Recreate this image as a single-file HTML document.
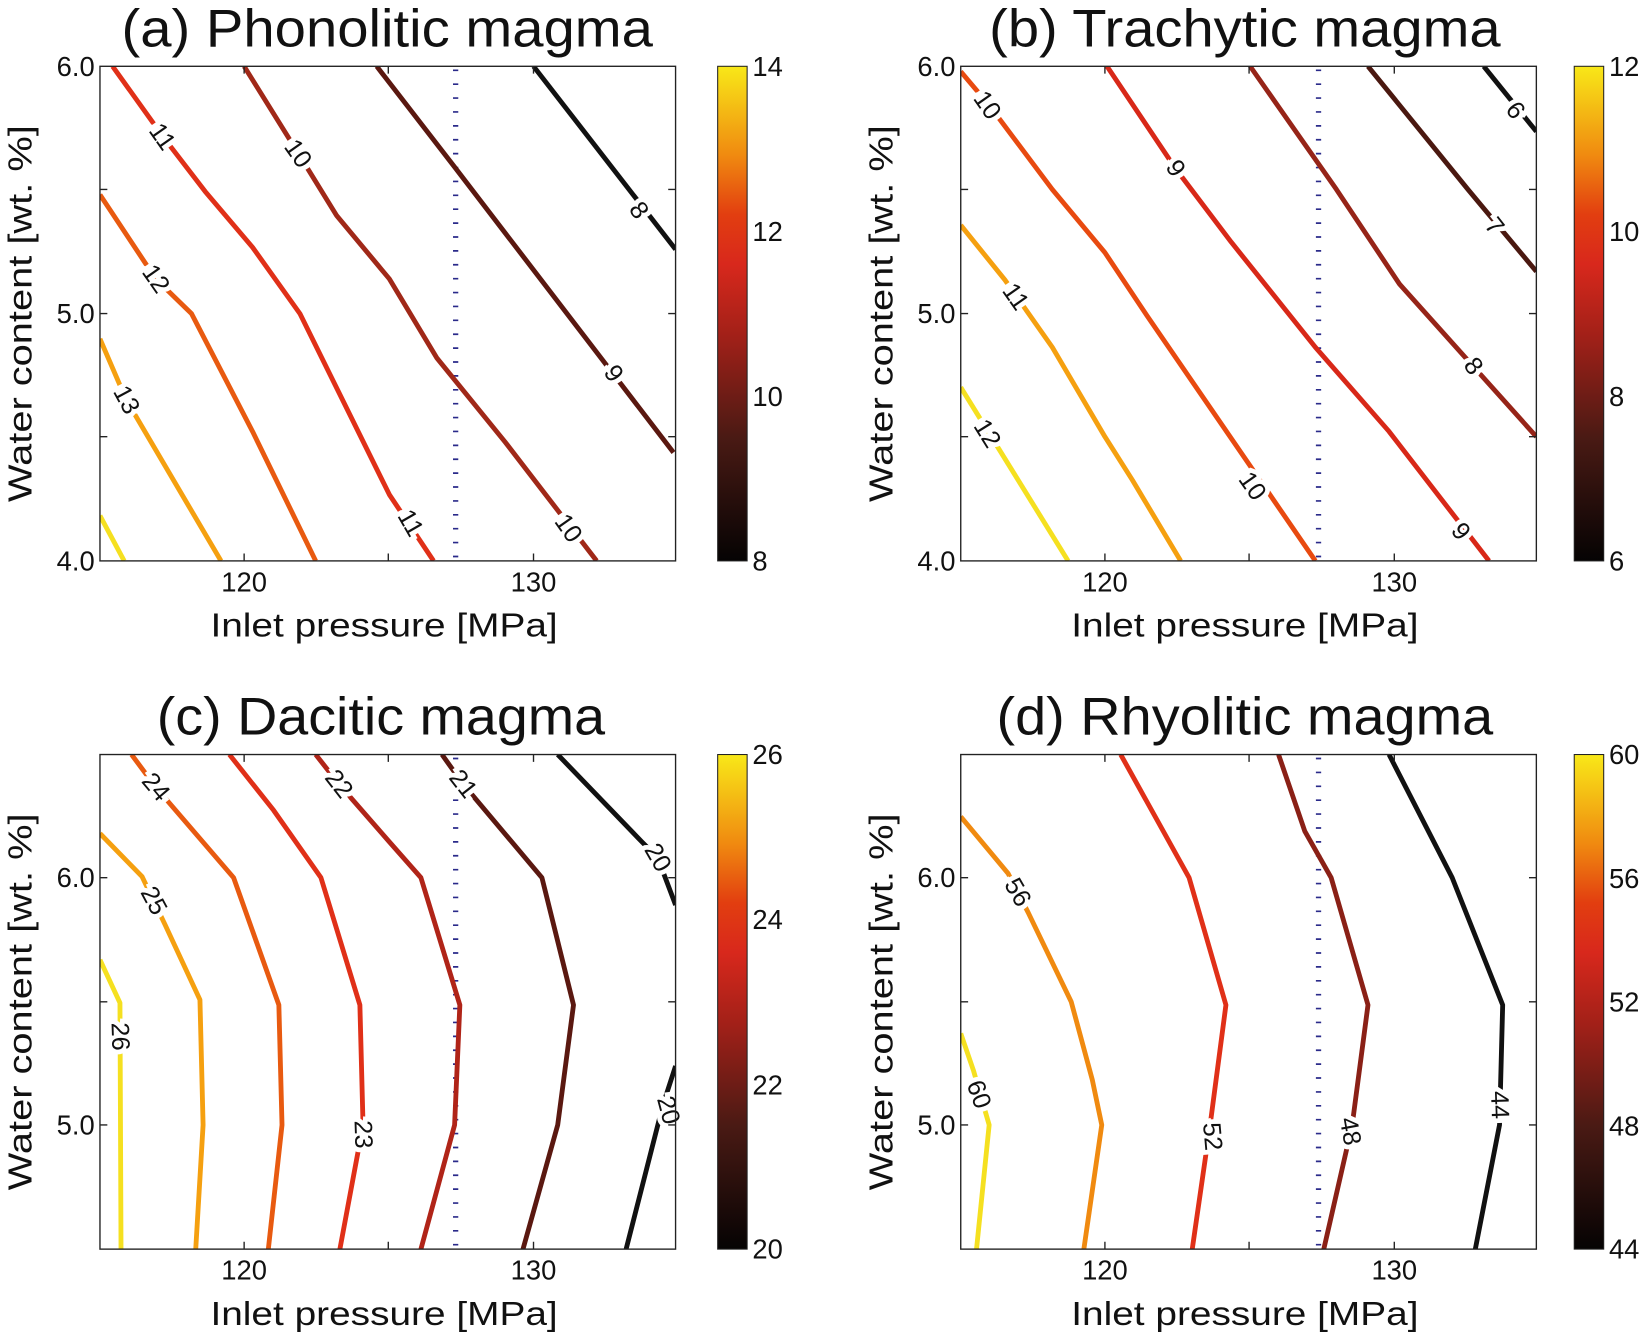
<!DOCTYPE html>
<html><head><meta charset="utf-8"><style>
html,body{margin:0;padding:0;background:#fff;}
svg{display:block;}
text{font-family:"Liberation Sans",sans-serif;fill:#111;}
.t{font-size:50px;text-anchor:middle;}
.ax{font-size:32px;text-anchor:middle;}
.tk{font-size:26px;}
.cl{font-size:24px;text-anchor:middle;dominant-baseline:central;stroke:#fff;stroke-width:9px;paint-order:stroke;}
.ln{fill:none;stroke-width:4.6;stroke-linejoin:round;stroke-linecap:butt;}
.bd{stroke:#2a2a8a;stroke-width:5;stroke-dasharray:1.6 11.6;fill:none;}
</style></head><body>
<svg width="1650" height="1339" viewBox="0 0 1568 1272.4" preserveAspectRatio="none" xmlns="http://www.w3.org/2000/svg">
<defs>
<linearGradient id="hot" x1="0" y1="1" x2="0" y2="0">
<stop offset="0" stop-color="#050303"/>
<stop offset="0.25" stop-color="#4a1a14"/>
<stop offset="0.45" stop-color="#a02018"/>
<stop offset="0.6" stop-color="#d8281c"/>
<stop offset="0.7" stop-color="#e23e10"/>
<stop offset="0.82" stop-color="#f08a10"/>
<stop offset="1" stop-color="#f8e818"/>
</linearGradient>
<clipPath id="ca"><rect x="95" y="63" width="547" height="470"/></clipPath>
<clipPath id="cb"><rect x="913" y="63" width="547" height="470"/></clipPath>
<clipPath id="cc"><rect x="95" y="717" width="547" height="470"/></clipPath>
<clipPath id="cd"><rect x="913" y="717" width="547" height="470"/></clipPath>
</defs>

<!-- Titles -->
<text class="t" x="368" y="44" textLength="505" lengthAdjust="spacingAndGlyphs">(a) Phonolitic magma</text>
<text class="t" x="1183" y="44" textLength="486" lengthAdjust="spacingAndGlyphs">(b) Trachytic magma</text>
<text class="t" x="362" y="698" textLength="426" lengthAdjust="spacingAndGlyphs">(c) Dacitic magma</text>
<text class="t" x="1183" y="698" textLength="472" lengthAdjust="spacingAndGlyphs">(d) Rhyolitic magma</text>

<!-- Panel a -->
<g clip-path="url(#ca)">
<line class="bd" x1="433" y1="66" x2="433" y2="533"/>
<polyline class="ln" stroke="#f5e020" points="95,490 118,533"/>
<polyline class="ln" stroke="#f5a010" points="95,322 120,380 210,533"/>
<polyline class="ln" stroke="#e85a10" points="95,185 148,265 182,298 240,410 300,533"/>
<polyline class="ln" stroke="#e03018" points="107,63 155,130 195,182 240,235 285,298 370,470 412,533"/>
<polyline class="ln" stroke="#a02818" points="232,63 283,145 320,205 370,265 415,340 480,420 567,533"/>
<polyline class="ln" stroke="#5a1810" points="358,63 433,160 640,430"/>
<polyline class="ln" stroke="#111" points="507,63 642,237"/>
</g>
<text class="cl" transform="translate(154,130) rotate(55)">11</text>
<text class="cl" transform="translate(283,146) rotate(55)">10</text>
<text class="cl" transform="translate(148,265) rotate(55)">12</text>
<text class="cl" transform="translate(120,380) rotate(62)">13</text>
<text class="cl" transform="translate(390,497) rotate(60)">11</text>
<text class="cl" transform="translate(540,502) rotate(55)">10</text>
<text class="cl" transform="translate(583,355) rotate(55)">9</text>
<text class="cl" transform="translate(607,200) rotate(55)">8</text>
<rect x="95" y="63" width="547" height="470" fill="none" stroke="#222" stroke-width="1.3"/>
<path d="M232,533v-7M369,533v-7M507,533v-7M232,63v7M369,63v7M507,63v7M95,180h7M95,298h7M95,415h7M642,180h-7M642,298h-7M642,415h-7" stroke="#222" stroke-width="1.3"/>
<text class="tk" x="90" y="72" text-anchor="end">6.0</text>
<text class="tk" x="90" y="307" text-anchor="end">5.0</text>
<text class="tk" x="90" y="542" text-anchor="end">4.0</text>
<text class="tk" x="232" y="562" text-anchor="middle">120</text>
<text class="tk" x="507" y="562" text-anchor="middle">130</text>
<text class="ax" x="365" y="605" textLength="330" lengthAdjust="spacingAndGlyphs">Inlet pressure [MPa]</text>
<text class="ax" transform="translate(30,298) rotate(-90)" textLength="358" lengthAdjust="spacingAndGlyphs">Water content [wt. %]</text>
<rect x="682" y="63" width="28" height="470" fill="url(#hot)" stroke="#222" stroke-width="1"/>
<text class="tk" x="715" y="72">14</text><text class="tk" x="715" y="229">12</text><text class="tk" x="715" y="386">10</text><text class="tk" x="715" y="542">8</text>

<!-- Panel b -->
<g clip-path="url(#cb)">
<line class="bd" x1="1253" y1="66" x2="1253" y2="533"/>
<polyline class="ln" stroke="#f5e020" points="913,368 1015,533"/>
<polyline class="ln" stroke="#f5a010" points="913,214 955,266 1000,330 1050,415 1076,456 1122,533"/>
<polyline class="ln" stroke="#e84a10" points="913,68 940,100 1000,180 1050,240 1090,300 1250,533"/>
<polyline class="ln" stroke="#d82818" points="1052,63 1117,160 1170,230 1250,330 1320,410 1415,533"/>
<polyline class="ln" stroke="#962418" points="1188,63 1270,180 1330,270 1460,415"/>
<polyline class="ln" stroke="#4a1810" points="1300,63 1395,180 1460,258"/>
<polyline class="ln" stroke="#111" points="1410,63 1460,125"/>
</g>
<text class="cl" transform="translate(938,100) rotate(55)">10</text>
<text class="cl" transform="translate(1117,160) rotate(57)">9</text>
<text class="cl" transform="translate(965,282) rotate(55)">11</text>
<text class="cl" transform="translate(938,412) rotate(58)">12</text>
<text class="cl" transform="translate(1190,462) rotate(55)">10</text>
<text class="cl" transform="translate(1388,505) rotate(52)">9</text>
<text class="cl" transform="translate(1400,348) rotate(52)">8</text>
<text class="cl" transform="translate(1420,215) rotate(52)">7</text>
<text class="cl" transform="translate(1440,105) rotate(52)">6</text>
<rect x="913" y="63" width="547" height="470" fill="none" stroke="#222" stroke-width="1.3"/>
<path d="M1050,533v-7M1187,533v-7M1325,533v-7M1050,63v7M1187,63v7M1325,63v7M913,180h7M913,298h7M913,415h7M1460,180h-7M1460,298h-7M1460,415h-7" stroke="#222" stroke-width="1.3"/>
<text class="tk" x="908" y="72" text-anchor="end">6.0</text>
<text class="tk" x="908" y="307" text-anchor="end">5.0</text>
<text class="tk" x="908" y="542" text-anchor="end">4.0</text>
<text class="tk" x="1050" y="562" text-anchor="middle">120</text>
<text class="tk" x="1325" y="562" text-anchor="middle">130</text>
<text class="ax" x="1183" y="605" textLength="330" lengthAdjust="spacingAndGlyphs">Inlet pressure [MPa]</text>
<text class="ax" transform="translate(848,298) rotate(-90)" textLength="358" lengthAdjust="spacingAndGlyphs">Water content [wt. %]</text>
<rect x="1496" y="63" width="28" height="470" fill="url(#hot)" stroke="#222" stroke-width="1"/>
<text class="tk" x="1529" y="72">12</text><text class="tk" x="1529" y="229">10</text><text class="tk" x="1529" y="386">8</text><text class="tk" x="1529" y="542">6</text>

<!-- Panel c -->
<g clip-path="url(#cc)">
<line class="bd" x1="433" y1="720" x2="433" y2="1187"/>
<polyline class="ln" stroke="#f5e020" points="95,912 114,953 115,1187"/>
<polyline class="ln" stroke="#f5a010" points="95,792 135,833 157,879 190,950 193,1069 186,1187"/>
<polyline class="ln" stroke="#e85a10" points="125,717 148,748 222,834 265,955 268,1069 255,1187"/>
<polyline class="ln" stroke="#e03018" points="218,717 260,770 305,834 342,955 345,1069 323,1187"/>
<polyline class="ln" stroke="#b02418" points="300,717 322,745 370,800 400,834 437,955 432,1069 400,1187"/>
<polyline class="ln" stroke="#5a1810" points="420,717 440,745 515,834 545,955 530,1069 497,1187"/>
<polyline class="ln" stroke="#111" points="530,717 610,800 625,815 642,860"/>
<polyline class="ln" stroke="#111" points="642,1013 630,1050 595,1187"/>
</g>
<text class="cl" transform="translate(148,748) rotate(50)">24</text>
<text class="cl" transform="translate(146,856) rotate(62)">25</text>
<text class="cl" transform="translate(114,985) rotate(88)">26</text>
<text class="cl" transform="translate(345,1078) rotate(88)">23</text>
<text class="cl" transform="translate(322,745) rotate(52)">22</text>
<text class="cl" transform="translate(440,745) rotate(52)">21</text>
<text class="cl" transform="translate(625,815) rotate(60)">20</text>
<text class="cl" transform="translate(635,1055) rotate(75)">20</text>
<rect x="95" y="717" width="547" height="470" fill="none" stroke="#222" stroke-width="1.3"/>
<path d="M232,1187v-7M369,1187v-7M507,1187v-7M232,717v7M369,717v7M507,717v7M95,834h7M95,952h7M95,1069h7M642,834h-7M642,952h-7M642,1069h-7" stroke="#222" stroke-width="1.3"/>
<text class="tk" x="90" y="843" text-anchor="end">6.0</text>
<text class="tk" x="90" y="1078" text-anchor="end">5.0</text>
<text class="tk" x="232" y="1216" text-anchor="middle">120</text>
<text class="tk" x="507" y="1216" text-anchor="middle">130</text>
<text class="ax" x="365" y="1259" textLength="330" lengthAdjust="spacingAndGlyphs">Inlet pressure [MPa]</text>
<text class="ax" transform="translate(30,952) rotate(-90)" textLength="358" lengthAdjust="spacingAndGlyphs">Water content [wt. %]</text>
<rect x="682" y="717" width="28" height="470" fill="url(#hot)" stroke="#222" stroke-width="1"/>
<text class="tk" x="715" y="726">26</text><text class="tk" x="715" y="883">24</text><text class="tk" x="715" y="1040">22</text><text class="tk" x="715" y="1196">20</text>

<!-- Panel d -->
<g clip-path="url(#cd)">
<line class="bd" x1="1253" y1="720" x2="1253" y2="1187"/>
<polyline class="ln" stroke="#f5e020" points="913,982 925,1017 940,1069 928,1187"/>
<polyline class="ln" stroke="#f08a10" points="913,776 958,830 977,867 1018,952 1038,1026 1047,1069 1030,1187"/>
<polyline class="ln" stroke="#e03018" points="1065,717 1130,834 1165,955 1150,1069 1133,1187"/>
<polyline class="ln" stroke="#8a2016" points="1215,717 1240,790 1265,834 1300,955 1285,1069 1258,1187"/>
<polyline class="ln" stroke="#111" points="1320,717 1380,834 1428,955 1425,1069 1402,1187"/>
</g>
<text class="cl" transform="translate(930,1040) rotate(70)">60</text>
<text class="cl" transform="translate(967,848) rotate(60)">56</text>
<text class="cl" transform="translate(1152,1080) rotate(85)">52</text>
<text class="cl" transform="translate(1283,1075) rotate(80)">48</text>
<text class="cl" transform="translate(1425,1050) rotate(88)">44</text>
<rect x="913" y="717" width="547" height="470" fill="none" stroke="#222" stroke-width="1.3"/>
<path d="M1050,1187v-7M1187,1187v-7M1325,1187v-7M1050,717v7M1187,717v7M1325,717v7M913,834h7M913,952h7M913,1069h7M1460,834h-7M1460,952h-7M1460,1069h-7" stroke="#222" stroke-width="1.3"/>
<text class="tk" x="908" y="843" text-anchor="end">6.0</text>
<text class="tk" x="908" y="1078" text-anchor="end">5.0</text>
<text class="tk" x="1050" y="1216" text-anchor="middle">120</text>
<text class="tk" x="1325" y="1216" text-anchor="middle">130</text>
<text class="ax" x="1183" y="1259" textLength="330" lengthAdjust="spacingAndGlyphs">Inlet pressure [MPa]</text>
<text class="ax" transform="translate(848,952) rotate(-90)" textLength="358" lengthAdjust="spacingAndGlyphs">Water content [wt. %]</text>
<rect x="1496" y="717" width="28" height="470" fill="url(#hot)" stroke="#222" stroke-width="1"/>
<text class="tk" x="1529" y="726">60</text><text class="tk" x="1529" y="844">56</text><text class="tk" x="1529" y="961">52</text><text class="tk" x="1529" y="1079">48</text><text class="tk" x="1529" y="1196">44</text>
</svg>
</body></html>
